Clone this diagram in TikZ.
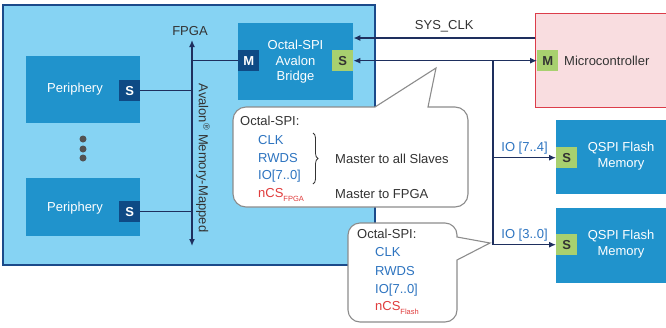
\documentclass[tikz,border=0pt]{standalone}
\usepackage{fontspec}
\setmainfont{Liberation Sans}
\usepackage{tikz}
\usetikzlibrary{arrows.meta,decorations.pathreplacing}
\definecolor{fpgafill}{HTML}{86D3F3}
\definecolor{fpgaedge}{HTML}{1B4A8A}
\definecolor{blk}{HTML}{2093CC}
\definecolor{badge}{HTML}{0E4A85}
\definecolor{lime}{HTML}{A8D06F}
\definecolor{navy}{HTML}{1E2F5E}
\definecolor{ink}{HTML}{333333}
\definecolor{sig}{HTML}{2D74C0}
\definecolor{alert}{HTML}{E03C3C}
\definecolor{mcufill}{HTML}{F9DDE0}
\definecolor{mcuedge}{HTML}{DC3D4A}
\definecolor{bubble}{HTML}{8C8C8C}
\tikzset{
  txt/.style={font=\fontsize{13}{15.5}\selectfont},
  box/.style={fill=blk, anchor=north west, inner sep=0pt},
  sbadge/.style={fill=badge, text=white, font=\fontsize{13}{13}\selectfont\bfseries, minimum size=21pt, inner sep=0pt, anchor=north west},
  gbadge/.style={sbadge, fill=lime, text=ink},
  bus/.style={draw=navy, line width=1.3pt},
  tip/.style={-{Latex[length=7pt,width=6pt]}},
  dtip/.style={{Latex[length=7pt,width=6pt]}-{Latex[length=7pt,width=6pt]}},
  bubblebox/.style={draw=bubble, fill=white, line width=1.1pt},
  lbl/.style={txt, text=ink, inner sep=0pt},
  wlbl/.style={txt, text=white, align=center, inner sep=0pt},
  slbl/.style={txt, text=sig, anchor=west, inner sep=0pt},
  rlbl/.style={txt, text=alert, anchor=west, inner sep=0pt},
  dot/.style={circle, fill=ink!85, inner sep=0pt, minimum size=7pt}
}
\newcommand{\subsm}[1]{\raisebox{-3.5pt}{\fontsize{7.5}{8}\selectfont #1}}

\begin{document}
\begin{tikzpicture}[x=1pt,y=-1pt]
  \useasboundingbox (0,0) rectangle (666,327);

  \draw[fill=fpgafill, draw=fpgaedge, line width=1.5pt] (3,5) rectangle (375,265);

  \node[box, minimum width=114pt, minimum height=67pt] (periA) at (26,56) {};
  \node[box, minimum width=114pt, minimum height=58pt] (periB) at (26,178) {};
  \node[sbadge] (sA) at (119,80) {S};
  \node[sbadge] (sB) at (119,201) {S};
  \node[wlbl] (periAtxt) at (75,89) {Periphery};
  \node[wlbl] (periBtxt) at (75,208) {Periphery};
  \node[dot] (dotA) at (83,139) {};
  \node[dot] (dotB) at (83,149) {};
  \node[dot] (dotC) at (83,158) {};

  \node[box, minimum width=115pt, minimum height=77pt] (bridge) at (238,23) {};
  \node[sbadge] (mBr) at (238,50) {M};
  \node[gbadge] (sBr) at (332,50) {S};
  \node[wlbl] (bridgeTxt) at (295.5,62) {Octal-SPI\\Avalon\\Bridge};

  \node[draw=mcuedge, fill=mcufill, line width=1.3pt, anchor=north west,
        minimum width=140pt, minimum height=94pt, inner sep=0pt] (mcu) at (535,13) {};
  \node[gbadge] (mMcu) at (537,50) {M};
  \node[lbl, anchor=west] (mcuTxt) at (564,61) {Microcontroller};

  \node[box, minimum width=115pt, minimum height=74pt] (flashA) at (556,120) {};
  \node[box, minimum width=115pt, minimum height=75pt] (flashB) at (556,208) {};
  \node[gbadge] (sF1) at (556,147) {S};
  \node[gbadge] (sF2) at (556,234) {S};
  \node[wlbl] (flashAtxt) at (621,156) {QSPI Flash\\Memory};
  \node[wlbl] (flashBtxt) at (621,244) {QSPI Flash\\Memory};

  \coordinate (busTop) at (192,40);
  \coordinate (busBot) at (192,246);
  \coordinate (clkRow) at (0,38);
  \coordinate (tap) at (493,60.5);

  \node[lbl] (fpgaLbl) at (190,31) {FPGA};
  \node[lbl, rotate=-90] (avalon) at (203,158) {Avalon\textsuperscript{®} Memory-Mapped};

  \draw[bus, dtip] (busTop) -- (busBot);
  \draw[bus] (sA.east) -- (sA.east -| busTop);
  \draw[bus] (sB.east) -- (sB.east -| busTop);
  \draw[bus] (mBr.west) -- (mBr.west -| busTop);

  \draw[bus, tip] (mcu.west |- clkRow) -- node[lbl, above=5pt] {SYS\_CLK} (bridge.east |- clkRow);
  \draw[bus, dtip] (sBr.east) -- (mMcu.west);
  \draw[bus, tip] (tap) |- node[txt, text=sig, pos=0.75, above=3pt, inner sep=0pt] {IO [7..4]} (sF1.west);
  \draw[bus, tip] (tap) |- node[txt, text=sig, pos=0.75, above=3pt, inner sep=0pt] {IO [3..0]} (sF2.west);

  \draw[bubblebox] (375,107) -- (436,68) -- (428,107) -- (455,107)
    arc[start angle=-90, end angle=0, radius=13] -- (468,194)
    arc[start angle=0, end angle=90, radius=13] -- (246,207)
    arc[start angle=90, end angle=180, radius=13] -- (233,120)
    arc[start angle=180, end angle=270, radius=13] -- cycle;
  \node[lbl, anchor=west] (spiA) at (240,121) {Octal-SPI:};
  \node[slbl] (clkA) at (258,140) {CLK};
  \node[slbl] (rwdsA) at (258,158) {RWDS};
  \node[slbl] (ioA) at (258,176) {IO[7..0]};
  \node[rlbl] (csA) at (258,195) {nCS\subsm{FPGA}};
  \draw[ink, line width=0.8pt, decorate, decoration={brace, amplitude=5pt}] (313,133) -- (313,184);
  \node[lbl, anchor=west] (allSl) at (335,159) {Master to all Slaves};
  \node[lbl, anchor=west] (toFpga) at (335,194) {Master to FPGA};

  \draw[bubblebox] (457,237) -- (490,243) -- (457,260) -- (457,310)
    arc[start angle=0, end angle=90, radius=12] -- (360,322)
    arc[start angle=90, end angle=180, radius=12] -- (348,235)
    arc[start angle=180, end angle=270, radius=12] -- (445,223)
    arc[start angle=270, end angle=360, radius=12] -- cycle;
  \node[lbl, anchor=west] (spiB) at (357,234) {Octal-SPI:};
  \node[slbl] (clkB) at (375,252) {CLK};
  \node[slbl] (rwdsB) at (375,271) {RWDS};
  \node[slbl] (ioB) at (375,290) {IO[7..0]};
  \node[rlbl] (csB) at (375,308) {nCS\subsm{Flash}};
\end{tikzpicture}
\end{document}
